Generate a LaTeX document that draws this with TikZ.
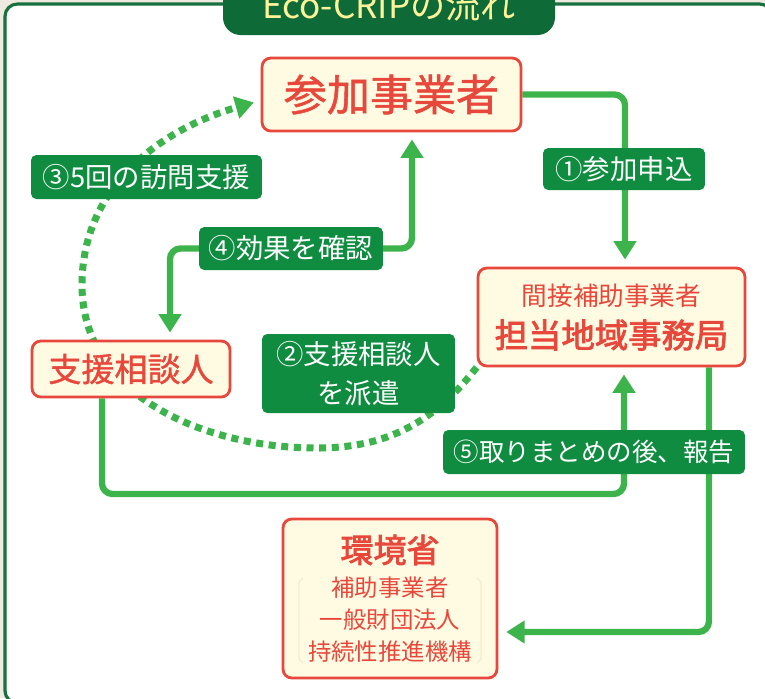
\documentclass[tikz,border=0pt]{standalone}
\usepackage{fontspec}
\setmainfont{Noto Sans CJK JP}
\newfontfamily\jpmid[FakeBold=1.2]{Noto Sans CJK JP}
\newfontfamily\jpheavy[FakeBold=2.4]{Noto Sans CJK JP}
\usetikzlibrary{arrows.meta}

\definecolor{paper}{HTML}{EFEAE0}
\definecolor{framegreen}{HTML}{17703D}
\definecolor{tabgreen}{HTML}{0E6B37}
\definecolor{taggreen}{HTML}{0F8C40}
\definecolor{flowgreen}{HTML}{3CB44B}
\definecolor{boxred}{HTML}{E8473B}
\definecolor{boxcream}{HTML}{FFFBE2}
\definecolor{titleyellow}{HTML}{FFF39A}
\definecolor{bracketcol}{HTML}{F4EBCB}

\newcommand{\sz}[2]{\fontsize{#1}{#2}\selectfont}

\pgfdeclarelayer{bg}
\pgfdeclarelayer{lines}
\pgfsetlayers{bg,lines,main}

\begin{document}
\begin{tikzpicture}[x=0.02cm, y=0.02cm,
    party/.style = {draw=boxred, fill=boxcream, line width=1.6pt, rounded corners=5pt, text=boxred, inner sep=0pt, align=center},
    tag/.style = {fill=taggreen, rounded corners=3pt, text=white, inner sep=0pt, align=center, font=\sz{15.6}{20}},
    flow/.style = {draw=flowgreen, line width=3.6pt, rounded corners=6pt, -{Triangle[length=10.5pt, width=12.5pt]}},
    visit/.style = {draw=flowgreen, line width=4pt, dash pattern=on 4pt off 3.2pt, -{Triangle[length=10.5pt, width=12.5pt]}}]
    \useasboundingbox (0,0) rectangle (765,-698);

    % frame and title
    \begin{pgfonlayer}{bg}
        \fill[paper] (0,0) rectangle (765,-698);
        \draw[framegreen, line width=1.8pt, fill=white, rounded corners=7pt] (5,-4) rectangle (772,-703);
        \fill[tabgreen, rounded corners=10pt] (223,30) rectangle (555,-35);
    \end{pgfonlayer}
    \node[anchor=base, text=titleyellow, font=\sz{20}{24}] (title) at (389,-18) {Eco-CRIPの流れ};

    % boxes
    \node[party, minimum width=5.18cm, minimum height=1.46cm, font=\jpmid\sz{24.5}{30}] (sanka) at (391.5,-94.5) {参加事業者};
    \node[party, minimum width=5.34cm, minimum height=1.96cm] (jimu) at (611.5,-317)
        {{\sz{14.6}{20}間接補助事業者}\\[6pt]{\jpheavy\sz{19}{24}担当地域事務局}};
    \node[party, minimum width=3.96cm, minimum height=1.12cm, font=\jpmid\sz{18.8}{24}] (soudan) at (131,-369) {支援相談人};
    \node[party, minimum width=4.28cm, minimum height=3.18cm] (kankyo) at (390,-598.5)
        {{\jpheavy\sz{18.8}{24}環境省}\\[5.5pt]{\sz{13.3}{17.6}補助事業者}\\[5pt]{\sz{13.3}{17.6}一般財団法人}\\[5pt]{\sz{13.3}{17.6}持続性推進機構}};
    \draw[bracketcol, line width=0.7pt] (303,-578) -- (299,-582) -- (299,-659) -- (303,-663);
    \draw[bracketcol, line width=0.7pt] (477,-578) -- (481,-582) -- (481,-659) -- (477,-663);

    % labels
    \node[tag, minimum width=3.24cm, minimum height=0.84cm] (l1) at (624,-169) {①参加申込};
    \node[tag, minimum width=3.86cm, minimum height=1.58cm] (l2) at (358.5,-373.5) {②支援相談人\\[2pt]を派遣};
    \node[tag, minimum width=4.62cm, minimum height=0.88cm] (l3) at (146.5,-177) {③5回の訪問支援};
    \node[tag, minimum width=3.68cm, minimum height=0.86cm] (l4) at (291,-248.5) {④効果を確認};
    \node[tag, minimum width=6.04cm, minimum height=0.88cm, font=\sz{14.5}{18}] (l5) at (594,-452) {⑤取りまとめの後、報告};

    % connectors
    \coordinate (c5) at (624,-494);
    \begin{pgfonlayer}{lines}
        \draw[flow, shorten >=4pt] (sanka.east) -| ([xshift=0.27cm]jimu.north);
        \draw[flow, {Triangle[length=10.5pt, width=12.5pt]}-{Triangle[length=10.5pt, width=12.5pt]}, shorten <=4pt, shorten >=4pt]
            ([xshift=0.41cm]sanka.south) |- (l4.east) -| ([xshift=0.78cm]soudan.north);
        \draw[flow, shorten >=4pt] ([xshift=-0.58cm]soudan.south) |- (c5) -- ([xshift=0.25cm]jimu.south);
        \draw[flow, shorten >=4.5pt] ([xshift=1.95cm]jimu.south) |- ([yshift=-0.67cm]kankyo.east);
        \draw[visit, shorten >=4pt] (jimu.south west) to[out=232, in=0] (317,-448)
            to[out=180, in=-90] (82,-285) to[out=90, in=196] ([yshift=-0.12cm]sanka.west);
    \end{pgfonlayer}
\end{tikzpicture}
\end{document}
